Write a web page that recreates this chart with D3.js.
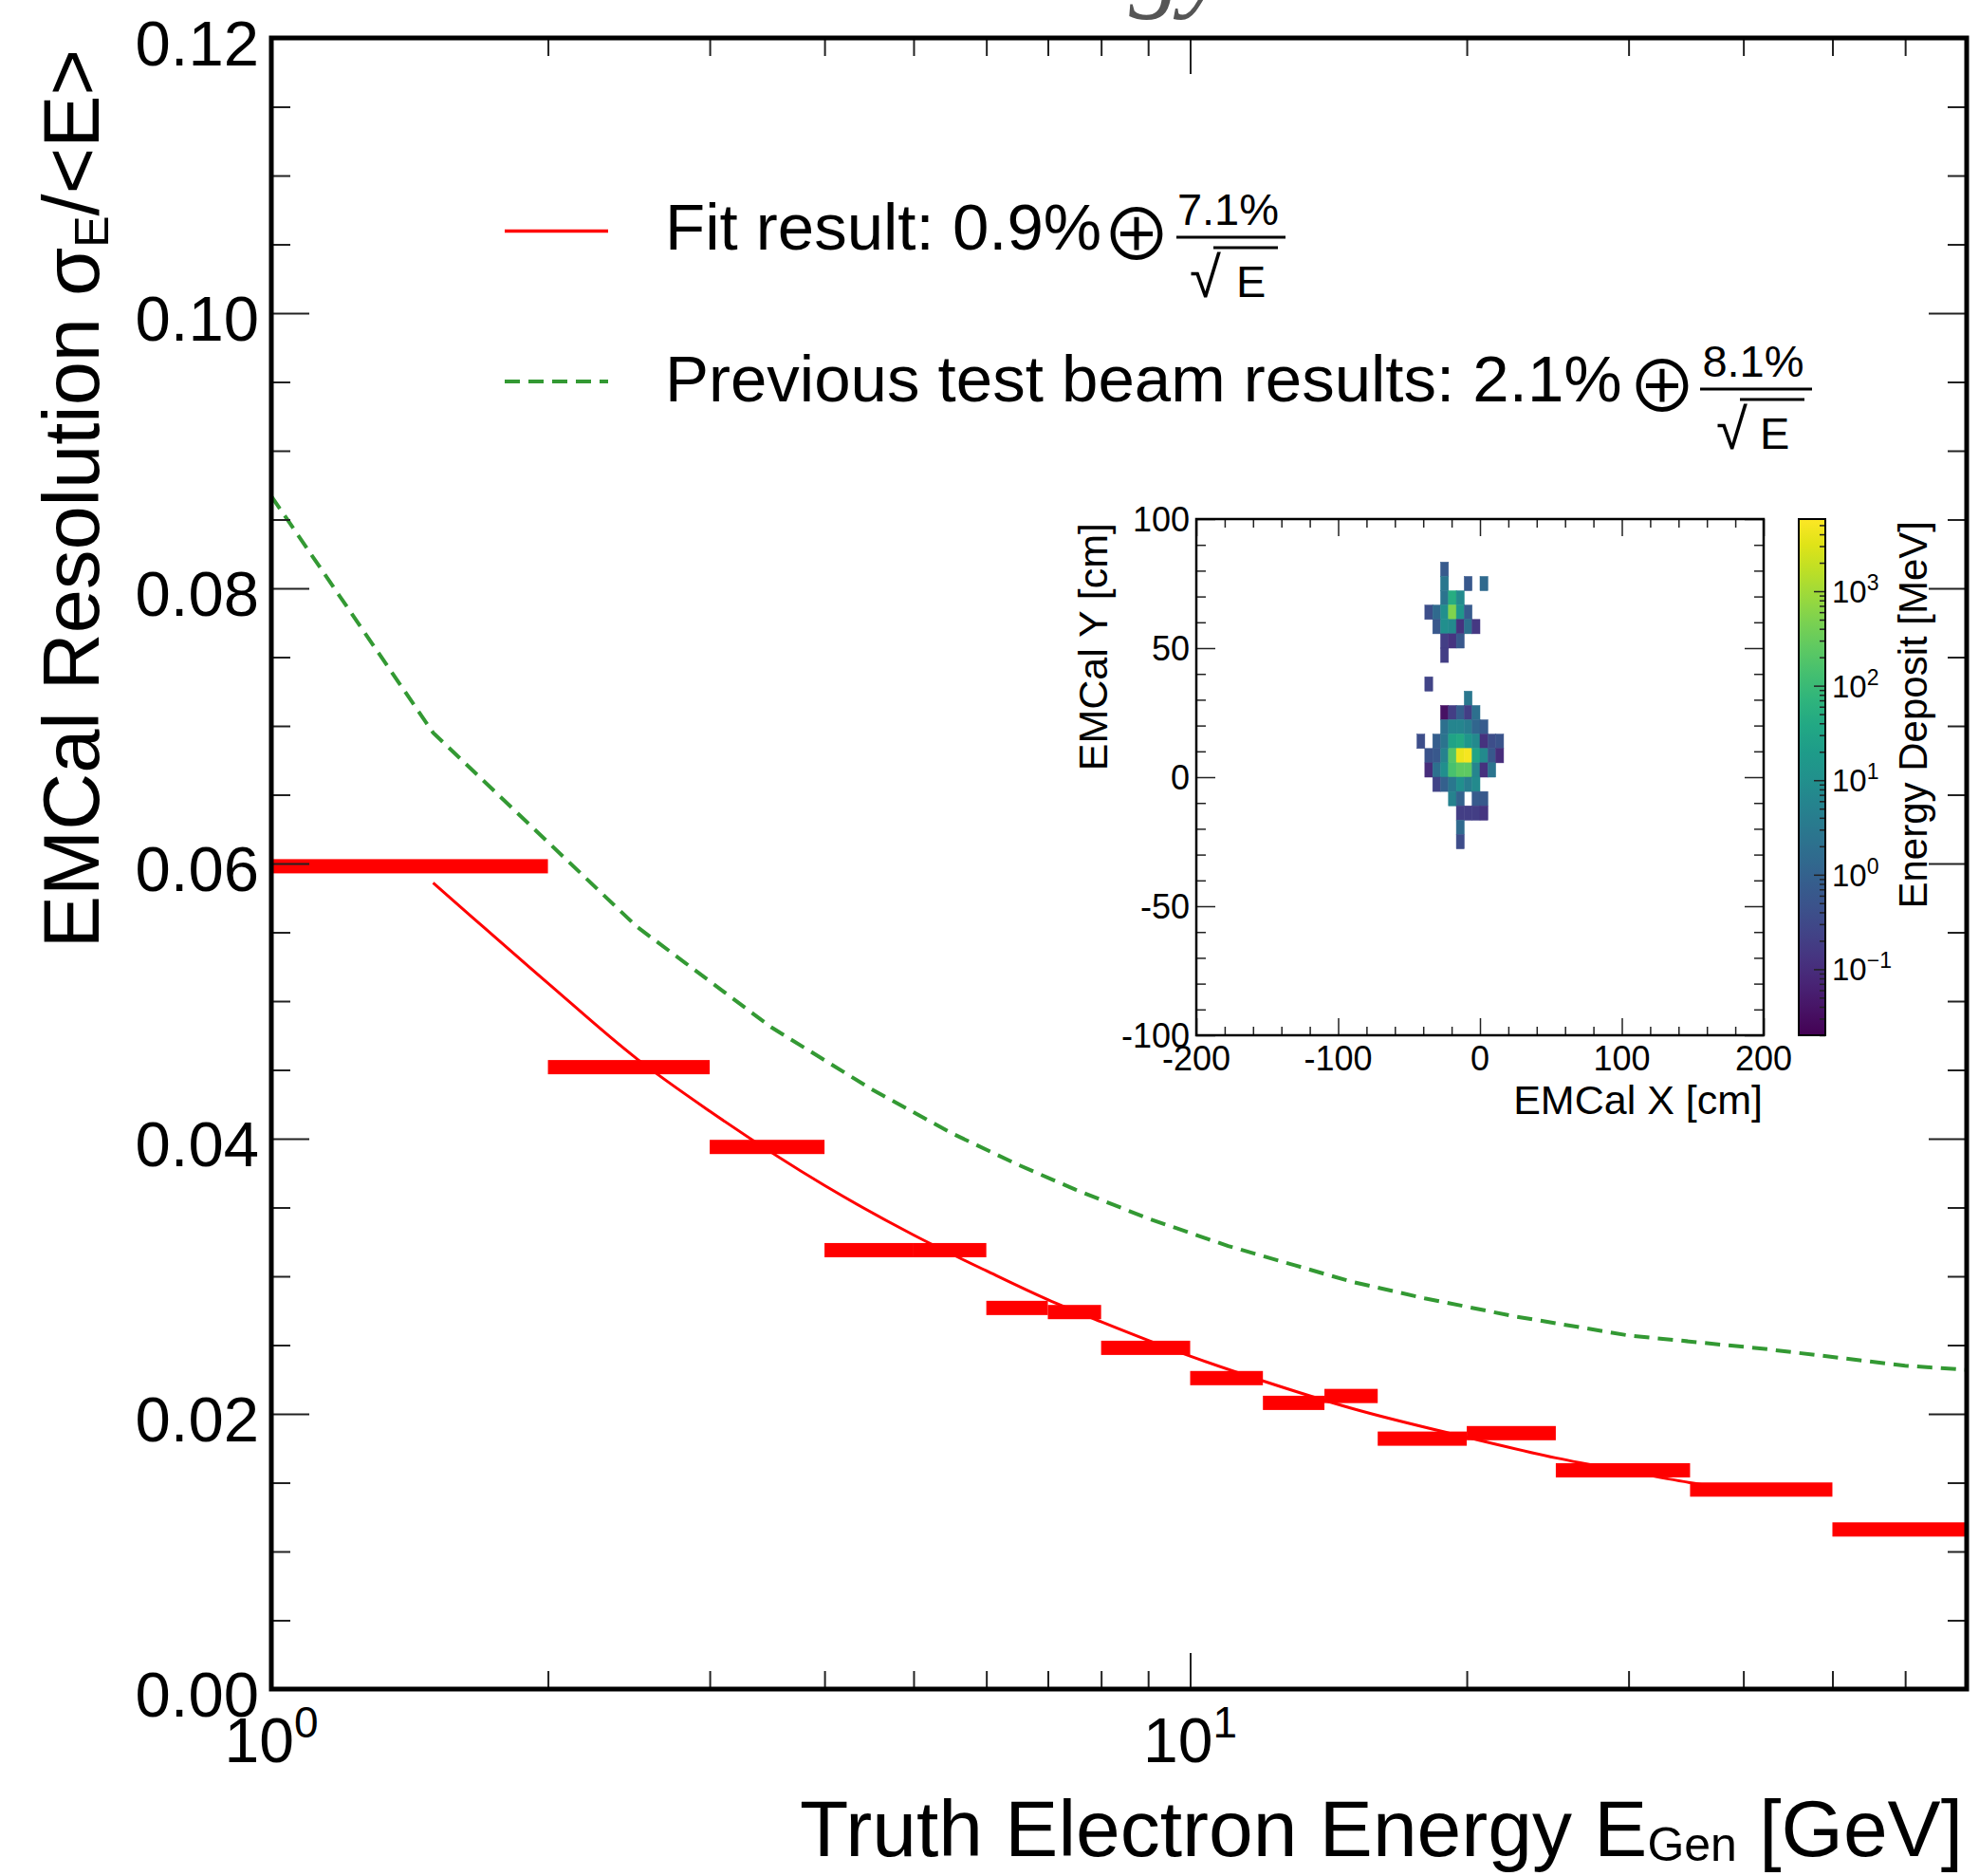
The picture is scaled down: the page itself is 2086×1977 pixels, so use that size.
<!DOCTYPE html>
<html><head><meta charset="utf-8">
<script src="https://cdn.jsdelivr.net/npm/d3@7"></script>
<style>body{margin:0;background:#fff} svg{display:block}</style>
</head><body><svg id="c" width="2086" height="1977"></svg>
<script>
// ---------------- data ----------------
const binLo  = [1, 2, 3, 4, 5, 6, 7, 8, 10, 12, 14, 16, 20, 25, 35, 50];
const binHi  = [2, 3, 4, 5, 6, 7, 8, 10, 12, 14, 16, 20, 25, 35, 50, 70];
const resVal = [0.0598, 0.0452, 0.0394, 0.0319, 0.0319, 0.0277, 0.0274, 0.0248, 0.0226, 0.0208, 0.0213, 0.0182, 0.0186, 0.0159, 0.0145, 0.0116];

const fitE = [1.5, 2, 2.5, 3, 4, 5, 6, 7, 8, 10, 12, 15, 20, 25, 30, 35, 40];
const fitV = [0.0586, 0.0513, 0.0458, 0.0420, 0.0366, 0.0330, 0.0304, 0.0283, 0.0267, 0.0242, 0.0224, 0.0204, 0.0183, 0.0168, 0.0158, 0.0150, 0.0144];

const prevE = [1, 1.5, 2.5, 3.5, 4.5, 5.5, 6.5, 7.5, 9, 11, 13, 15, 18, 22.5, 30, 42.5, 60, 70];
const prevV = [0.0867, 0.0695, 0.0554, 0.0481, 0.0436, 0.0404, 0.0381, 0.0363, 0.0342, 0.0322, 0.0308, 0.0296, 0.0284, 0.0271, 0.0257, 0.0247, 0.0235, 0.0232];

const yTickVals   = [0, 0.02, 0.04, 0.06, 0.08, 0.10, 0.12];
const yTickLabels = ["0.00", "0.02", "0.04", "0.06", "0.08", "0.10", "0.12"];
const xMajorVals  = [1, 10];
const xMajorExp   = ["0", "1"];
const xMinorVals  = [2, 3, 4, 5, 6, 7, 8, 9, 20, 30, 40, 50, 60, 70];

// inset: EMCal hit map (bin index column/row, 5.556 cm bins), energy in MeV
const cellCol = [-5,-5,-2,0,-5,-4,-3,-7,-6,-5,-4,-3,-2,-6,-5,-4,-3,-2,-1,-5,-4,-3,-5,-7,
  -2,-5,-4,-3,-2,-1,-5,-4,-3,-2,-1,0,-8,-6,-5,-4,-3,-2,-1,0,1,2,
  -7,-6,-5,-4,-3,-2,-1,0,1,2,-7,-6,-5,-4,-3,-2,-1,0,1,
  -6,-5,-4,-3,-2,-1,-4,-3,-1,0,-3,-2,-1,0,-3,-3];
const cellRow = [14,13,13,13,12,12,12,11,11,11,11,11,11,10,10,10,10,10,10,9,9,9,8,6,
  5,4,4,4,4,4,3,3,3,3,3,3,2,2,2,2,2,2,2,2,2,2,
  1,1,1,1,1,1,1,1,1,1,0,0,0,0,0,0,0,0,0,
  -1,-1,-1,-1,-1,-1,-2,-2,-2,-2,-3,-3,-3,-3,-4,-5];
const cellE = [0.7,3,0.6,1.5,2.5,50,8,0.4,1.5,10,500,15,0.7,0.6,10,8,0.12,2,0.15,0.2,0.13,0.6,0.2,0.25,
  3,0.035,0.2,0.8,0.2,2,2,6,6,4,1.2,0.7,0.4,0.8,2.5,30,40,15,8,0.12,0.4,0.5,
  0.5,0.6,5,200,4000,5000,30,8,0.6,0.1,0.1,2,10,150,250,250,6,0.12,2.5,
  0.25,0.9,3,10,4,8,5,1,0.7,0.6,0.2,0.2,0.2,0.13,1.5,0.35];
const binWidthCm = 400 / 72;

const insetXTicks  = [-200, -100, 0, 100, 200];
const insetYTicks  = [-100, -50, 0, 50, 100];
const cbTickVals   = [0.1, 1, 10, 100, 1000];
const cbTickExp    = ["\u22121", "0", "1", "2", "3"];

// ---------------- drawing ----------------
const W = 2086, H = 1977;
const FONT = "'Liberation Sans', Arial, Helvetica, sans-serif";
const svg = d3.select("#c").attr("font-family", FONT);
svg.append("rect").attr("width", W).attr("height", H).attr("fill", "#fff");

const M = {l: 286, r: 2073, t: 40, b: 1780};
const x = d3.scaleLog().domain([1, 70]).range([M.l, M.r]);
const y = d3.scaleLinear().domain([0, 0.12]).range([M.b, M.t]);

// cropped title fragment at top (only descenders visible)
svg.append("text").attr("x", 1296).attr("y", -3).attr("text-anchor", "end")
  .attr("font-family", "'Liberation Serif', serif").attr("font-style", "italic")
  .attr("font-size", 112).attr("fill", "#555").text("Energy");

const defs = svg.append("defs");
defs.append("clipPath").attr("id", "plotClip").append("rect")
  .attr("x", M.l).attr("y", M.t).attr("width", M.r - M.l).attr("height", M.b - M.t);

const plot = svg.append("g").attr("clip-path", "url(#plotClip)");

// data bars
plot.selectAll("rect.bar")
  .data(resVal.map((v, i) => ({lo: binLo[i], hi: binHi[i], v})))
  .join("rect").attr("class", "bar")
  .attr("x", d => x(d.lo)).attr("width", d => x(d.hi) - x(d.lo))
  .attr("y", d => y(d.v) - 7.5).attr("height", 15).attr("fill", "#ff0000");

// fit curve
plot.append("path").datum(fitE.map((e, i) => [e, fitV[i]]))
  .attr("d", d3.line().x(d => x(d[0])).y(d => y(d[1])).curve(d3.curveMonotoneX))
  .attr("fill", "none").attr("stroke", "#ff0000").attr("stroke-width", 3);

// previous test beam
plot.append("path").datum(prevE.map((e, i) => [e, prevV[i]]))
  .attr("d", d3.line().x(d => x(d[0])).y(d => y(d[1])))
  .attr("fill", "none").attr("stroke", "#339933").attr("stroke-width", 4)
  .attr("stroke-dasharray", "16,9");

// ticks
function tickAxis(g, axisFn, scale, vals, size, sw) {
  g.call(axisFn(scale).tickValues(vals).tickSize(size).tickFormat(""));
  g.select(".domain").remove();
  g.selectAll("line").attr("stroke", "#222").attr("stroke-width", sw || 2);
}
const yMinor = d3.range(0, 25).map(k => k * 0.005).filter((v, k) => k % 4 !== 0);
tickAxis(svg.append("g").attr("transform", `translate(${M.l},0)`), d3.axisRight, y, yTickVals, 40);
tickAxis(svg.append("g").attr("transform", `translate(${M.l},0)`), d3.axisRight, y, yMinor, 20);
tickAxis(svg.append("g").attr("transform", `translate(${M.r},0)`), d3.axisLeft, y, yTickVals, 40);
tickAxis(svg.append("g").attr("transform", `translate(${M.r},0)`), d3.axisLeft, y, yMinor, 20);
tickAxis(svg.append("g").attr("transform", `translate(0,${M.b})`), d3.axisTop, x, xMajorVals, 38);
tickAxis(svg.append("g").attr("transform", `translate(0,${M.b})`), d3.axisTop, x, xMinorVals, 19);
tickAxis(svg.append("g").attr("transform", `translate(0,${M.t})`), d3.axisBottom, x, xMajorVals, 38);
tickAxis(svg.append("g").attr("transform", `translate(0,${M.t})`), d3.axisBottom, x, xMinorVals, 19);

// frame
svg.append("rect").attr("x", M.l).attr("y", M.t).attr("width", M.r - M.l).attr("height", M.b - M.t)
  .attr("fill", "none").attr("stroke", "#000").attr("stroke-width", 5);

// y tick labels
svg.selectAll("text.ylab").data(yTickVals).join("text").attr("class", "ylab")
  .attr("x", 273).attr("y", d => y(d) + 29).attr("text-anchor", "end")
  .attr("font-size", 67).text((d, i) => yTickLabels[i]);

// x tick labels 10^n
xMajorVals.forEach((v, i) => {
  const t = svg.append("text").attr("x", x(v)).attr("y", 1857).attr("text-anchor", "middle").attr("font-size", 66);
  t.append("tspan").text("10");
  t.append("tspan").attr("font-size", 46).attr("dy", -26).text(xMajorExp[i]);
});

// axis titles
const yt = svg.append("text").attr("transform", "translate(104,52) rotate(-90)")
  .attr("text-anchor", "end").attr("font-size", 83);
yt.append("tspan").text("EMCal Resolution \u03C3");
yt.append("tspan").attr("font-size", 50).attr("dy", 10).text("E");
yt.append("tspan").attr("dy", -10).text("/<E>");

const xt = svg.append("text").attr("x", 2069).attr("y", 1956).attr("text-anchor", "end")
  .attr("font-size", 84).style("white-space", "pre");
xt.append("tspan").text("Truth Electron Energy E");
xt.append("tspan").attr("font-size", 50).attr("dy", 5).text("Gen");
xt.append("tspan").attr("dy", -5).text(" [GeV]");

// ---------------- legend ----------------
svg.append("line").attr("x1", 532).attr("x2", 641).attr("y1", 243.5).attr("y2", 243.5)
  .attr("stroke", "#ff0000").attr("stroke-width", 3.5);
svg.append("line").attr("x1", 532).attr("x2", 641).attr("y1", 402).attr("y2", 402)
  .attr("stroke", "#339933").attr("stroke-width", 4).attr("stroke-dasharray", "16,9");

function legendEntry(label, yBase, oplusX, num, fracL, fracR, sqrtX, eX) {
  svg.append("text").attr("x", 701).attr("y", yBase).attr("font-size", 69).text(label);
  svg.append("text").attr("x", oplusX).attr("y", yBase + 11).attr("text-anchor", "middle")
    .attr("font-family", "'Noto Sans CJK JP', 'DejaVu Sans', sans-serif").attr("font-size", 74).text("\u2295");
  svg.append("text").attr("x", (fracL + fracR) / 2 - 3).attr("y", yBase - 26).attr("text-anchor", "middle")
    .attr("font-size", 47).text(num);
  svg.append("line").attr("x1", fracL).attr("x2", fracR).attr("y1", yBase - 13).attr("y2", yBase - 13)
    .attr("stroke", "#000").attr("stroke-width", 3);
  svg.append("text").attr("x", sqrtX).attr("y", yBase + 50).attr("font-size", 60).text("\u221A");
  svg.append("text").attr("x", eX).attr("y", yBase + 50).attr("font-size", 47).text("E");
  svg.append("line").attr("x1", sqrtX + 25).attr("x2", fracR - 8).attr("y1", yBase - 2).attr("y2", yBase - 2)
    .attr("stroke", "#000").attr("stroke-width", 3);
}
legendEntry("Fit result: 0.9%", 263, 1198, "7.1%", 1240, 1355, 1254, 1303);
legendEntry("Previous test beam results: 2.1%", 423, 1752, "8.1%", 1792, 1910, 1809, 1855);

// ---------------- inset ----------------
const I = {l: 1261, r: 1859, t: 547, b: 1091};
const xi = d3.scaleLinear().domain([-200, 200]).range([I.l, I.r]);
const yi = d3.scaleLinear().domain([-100, 100]).range([I.b, I.t]);
const cbDomain = [0.02, 5800];
const color = d3.scaleSequentialLog(d3.interpolateViridis).domain(cbDomain);

svg.append("g").selectAll("rect").data(cellE.map((e, i) => ({c: cellCol[i], r: cellRow[i], e})))
  .join("rect")
  .attr("x", d => xi(d.c * binWidthCm)).attr("width", d => xi((d.c + 1) * binWidthCm) - xi(d.c * binWidthCm))
  .attr("y", d => yi((d.r + 1) * binWidthCm)).attr("height", d => yi(d.r * binWidthCm) - yi((d.r + 1) * binWidthCm))
  .attr("fill", d => color(d.e)).attr("stroke", d => color(d.e)).attr("stroke-width", 0.5);

const ixMinor = d3.range(-200, 201, 20).filter(v => v % 100 !== 0);
const iyMinor = d3.range(-100, 101, 10).filter(v => v % 50 !== 0);
tickAxis(svg.append("g").attr("transform", `translate(0,${I.b})`), d3.axisTop, xi, insetXTicks, 18, 1.5);
tickAxis(svg.append("g").attr("transform", `translate(0,${I.b})`), d3.axisTop, xi, ixMinor, 9, 1.5);
tickAxis(svg.append("g").attr("transform", `translate(0,${I.t})`), d3.axisBottom, xi, insetXTicks, 18, 1.5);
tickAxis(svg.append("g").attr("transform", `translate(0,${I.t})`), d3.axisBottom, xi, ixMinor, 9, 1.5);
tickAxis(svg.append("g").attr("transform", `translate(${I.l},0)`), d3.axisRight, yi, insetYTicks, 20, 1.5);
tickAxis(svg.append("g").attr("transform", `translate(${I.l},0)`), d3.axisRight, yi, iyMinor, 10, 1.5);
tickAxis(svg.append("g").attr("transform", `translate(${I.r},0)`), d3.axisLeft, yi, insetYTicks, 20, 1.5);
tickAxis(svg.append("g").attr("transform", `translate(${I.r},0)`), d3.axisLeft, yi, iyMinor, 10, 1.5);
svg.append("rect").attr("x", I.l).attr("y", I.t).attr("width", I.r - I.l).attr("height", I.b - I.t)
  .attr("fill", "none").attr("stroke", "#000").attr("stroke-width", 2.5);

svg.selectAll("text.ixl").data(insetXTicks).join("text").attr("class", "ixl")
  .attr("x", d => xi(d)).attr("y", 1128).attr("text-anchor", "middle").attr("font-size", 36)
  .text(d => String(d));
svg.selectAll("text.iyl").data(insetYTicks).join("text").attr("class", "iyl")
  .attr("x", 1254).attr("y", d => yi(d) + 13).attr("text-anchor", "end").attr("font-size", 36)
  .text(d => String(d));
svg.append("text").attr("x", 1858).attr("y", 1174).attr("text-anchor", "end").attr("font-size", 43)
  .text("EMCal X [cm]");
svg.append("text").attr("transform", "translate(1167,551) rotate(-90)").attr("text-anchor", "end")
  .attr("font-size", 43).text("EMCal Y [cm]");

// colour bar
const CB = {l: 1896, r: 1924};
const yc = d3.scaleLog().domain(cbDomain).range([I.b, I.t]);
const grad = defs.append("linearGradient").attr("id", "cbGrad")
  .attr("x1", 0).attr("y1", 1).attr("x2", 0).attr("y2", 0);
d3.range(0, 21).forEach(k => grad.append("stop").attr("offset", k / 20).attr("stop-color", d3.interpolateViridis(k / 20)));
svg.append("rect").attr("x", CB.l).attr("y", I.t).attr("width", CB.r - CB.l).attr("height", I.b - I.t)
  .attr("fill", "url(#cbGrad)");
const cbMinor = [];
[0.01, 0.1, 1, 10, 100, 1000].forEach(d => { for (let m = 2; m <= 9; m++) { const v = d * m; if (v >= cbDomain[0] && v <= cbDomain[1]) cbMinor.push(v); } });
tickAxis(svg.append("g").attr("transform", `translate(${CB.r},0)`), d3.axisLeft, yc, cbTickVals, 12, 1.5);
tickAxis(svg.append("g").attr("transform", `translate(${CB.r},0)`), d3.axisLeft, yc, cbMinor, 6, 1.5);
svg.append("rect").attr("x", CB.l).attr("y", I.t).attr("width", CB.r - CB.l).attr("height", I.b - I.t)
  .attr("fill", "none").attr("stroke", "#000").attr("stroke-width", 2);
cbTickVals.forEach((v, i) => {
  const t = svg.append("text").attr("x", 1931).attr("y", yc(v) + 12).attr("font-size", 33);
  t.append("tspan").text("10");
  t.append("tspan").attr("font-size", 23).attr("dy", -13).text(cbTickExp[i]);
});
svg.append("text").attr("transform", "translate(2031,549) rotate(-90)").attr("text-anchor", "end")
  .attr("font-size", 42).text("Energy Deposit [MeV]");
</script>
</body></html>
